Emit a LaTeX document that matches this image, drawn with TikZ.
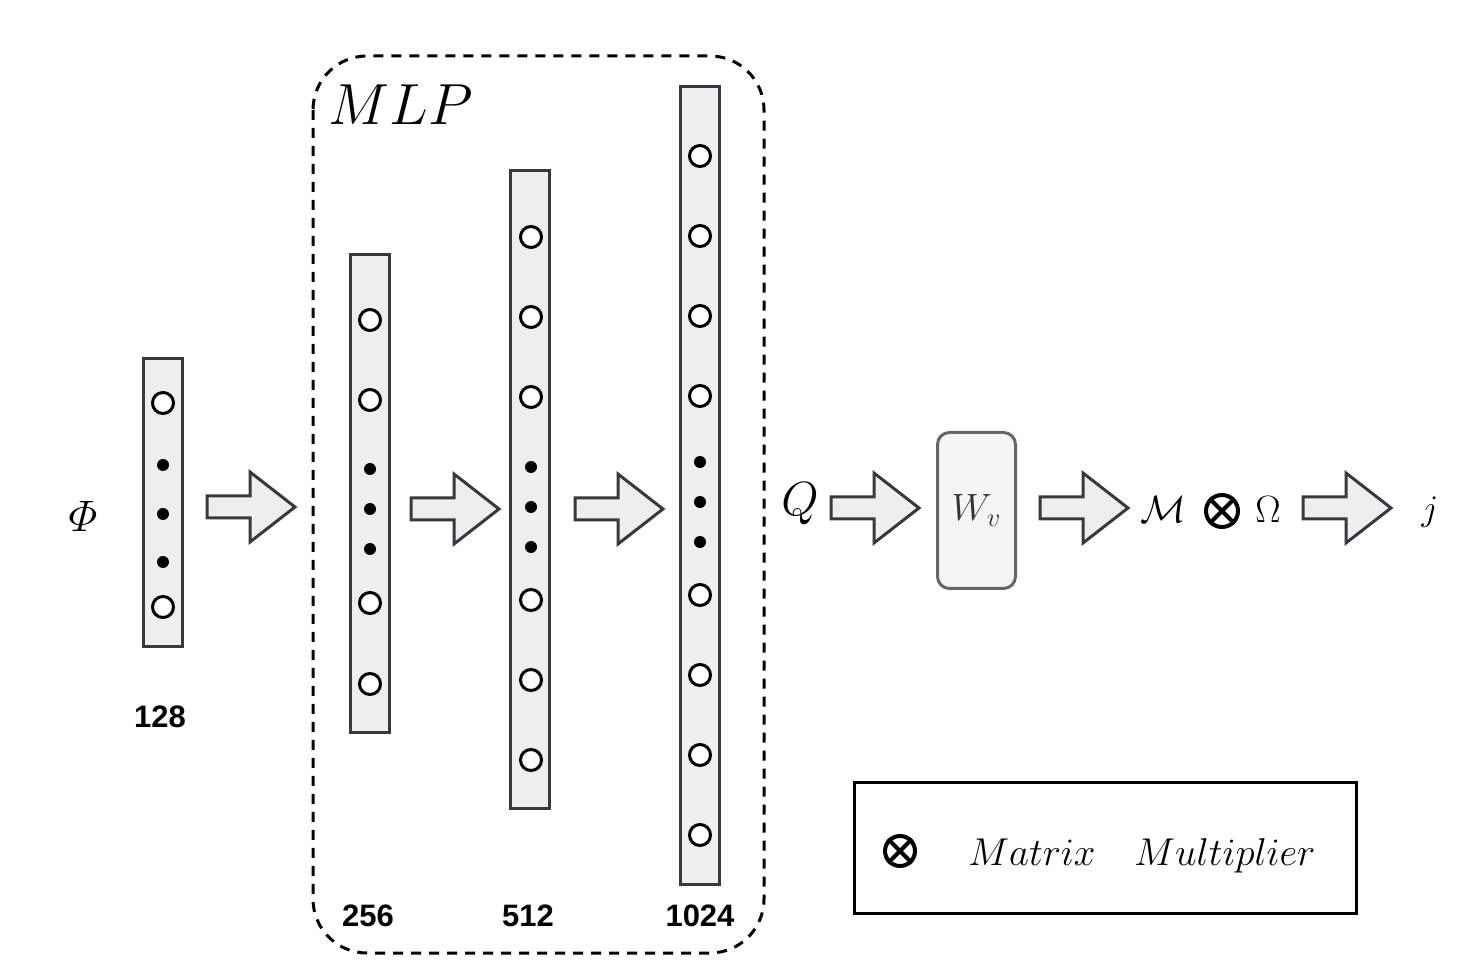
\RequirePackage{fix-cm}
\documentclass[tikz,border=0pt]{standalone}
\usepackage{amsmath}
\usepackage[no-math]{fontspec}
\newfontfamily\numfont{Liberation Sans}
\definecolor{bardraw}{HTML}{36393D}
\definecolor{barfill}{HTML}{EEEEEE}
\definecolor{wfill}{HTML}{F5F5F5}
\definecolor{wdraw}{HTML}{666666}
\tikzset{
 bar/.style={draw=bardraw, fill=barfill, line width=1.5pt, inner sep=0pt, minimum width=19.5pt},
 neuron/.style={circle, draw=black, fill=white, line width=1.5pt, minimum size=10.5pt, inner sep=0pt},
 dotn/.style={circle, fill=black, minimum size=6pt, inner sep=0pt},
 numlab/.style={font=\numfont\bfseries\fontsize{15.5}{15.5}\selectfont, text=black, inner sep=0pt},
 mathlab/.style={inner sep=0pt},
 otimesmark/.style={circle, draw=black, line width=2pt, inner sep=0pt},
 blockarrow/.pic={\draw[bardraw, fill=barfill, line width=1.5pt, line join=miter]
   (0,-11) -- (43,-11) -- (43,-35) -- (88,0) -- (43,35) -- (43,11) -- (0,11) -- cycle;},
 mlpbox/.style={draw=black, line width=1.5pt, dash pattern=on 5pt off 4pt, rounded corners=27pt},
}
\begin{document}
\begin{tikzpicture}[x=0.5pt,y=-0.5pt]
\useasboundingbox (0,0) rectangle (1484,972);
% dashed MLP container
\draw[mlpbox] (313,56) rectangle (764,953);
\node[mathlab, font=\fontsize{29}{29}\selectfont] (mlp) at (401,105) {$MLP$};
% input
\node[mathlab, font=\fontsize{22}{22}\selectfont] (phi) at (83,516) {$\varPhi$};
% bar 1
\node[bar, minimum height=144pt] (b1) at (163,502.5) {};
\node[neuron] (n1a) at (163,403) {};
\node[neuron] (n1b) at (163,607) {};
\foreach \y [count=\i] in {465,514,562} \node[dotn] (d1-\i) at (163,\y) {};
\node[numlab] (l1) at (160,717) {128};
% arrow 1
\pic (a1) at (207,507) {blockarrow};
% bar 2
\node[bar, minimum height=239pt] (b2) at (369.5,493.5) {};
\foreach \y [count=\i] in {320,400,603,684} \node[neuron] (n2-\i) at (370,\y) {};
\foreach \y [count=\i] in {469,509,549} \node[dotn] (d2-\i) at (370,\y) {};
\node[numlab] (l2) at (368,916) {256};
% arrow 2
\pic (a2) at (411,509) {blockarrow};
% bar 3
\node[bar, minimum height=319pt] (b3) at (529.5,489.5) {};
\foreach \y [count=\i] in {237,317,397,600,680,760} \node[neuron] (n3-\i) at (531,\y) {};
\foreach \y [count=\i] in {467,507,547} \node[dotn] (d3-\i) at (531,\y) {};
\node[numlab] (l3) at (528,916) {512};
% arrow 3
\pic (a3) at (575,509) {blockarrow};
% bar 4
\node[bar, minimum height=399pt] (b4) at (699.5,485.5) {};
\foreach \y [count=\i] in {156,236,316,396,595,675,755,835} \node[neuron] (n4-\i) at (700,\y) {};
\foreach \y [count=\i] in {462,502,542} \node[dotn] (d4-\i) at (700,\y) {};
\node[numlab] (l4) at (700,916) {1024};
% Q
\node[mathlab, font=\fontsize{24}{24}\selectfont] (q) at (800,504) {$Q$};
\pic (a4) at (831,508) {blockarrow};
% W_v
\node[draw=wdraw, fill=wfill, line width=1.5pt, rounded corners=6pt, minimum width=39pt, minimum height=78pt, inner sep=0pt,
      text=black!80, font=\fontsize{19}{19}\selectfont] (wv) at (976.5,510.5) {$W_v$};
\pic (a5) at (1040,508) {blockarrow};
% M otimes Omega
\node[mathlab, font=\fontsize{19}{19}\selectfont] (m) at (1163,510) {$\mathcal{M}$};
\node[otimesmark, minimum size=16pt] (ot) at (1222,511) {};
\draw[line width=2pt] (ot.north west) -- (ot.south east) (ot.north east) -- (ot.south west);
\node[mathlab, font=\fontsize{19}{19}\selectfont] (om) at (1268,510) {$\Omega$};
\pic (a6) at (1303,508) {blockarrow};
\node[mathlab, font=\fontsize{18}{18}\selectfont] (j) at (1430,512) {$j$};
% legend
\node[draw=black, line width=1.5pt, minimum width=251pt, minimum height=65.5pt, inner sep=0pt] (leg) at (1105.5,848) {};
\node[otimesmark, minimum size=15pt] (legot) at (900,851) {};
\draw[line width=2pt] (legot.north west) -- (legot.south east) (legot.north east) -- (legot.south west);
\node[mathlab, anchor=base, font=\fontsize{19.4}{19.4}\selectfont] (legtxt) at (1142,865) {$Matrix\quad Multiplier$};
\end{tikzpicture}
\end{document}
